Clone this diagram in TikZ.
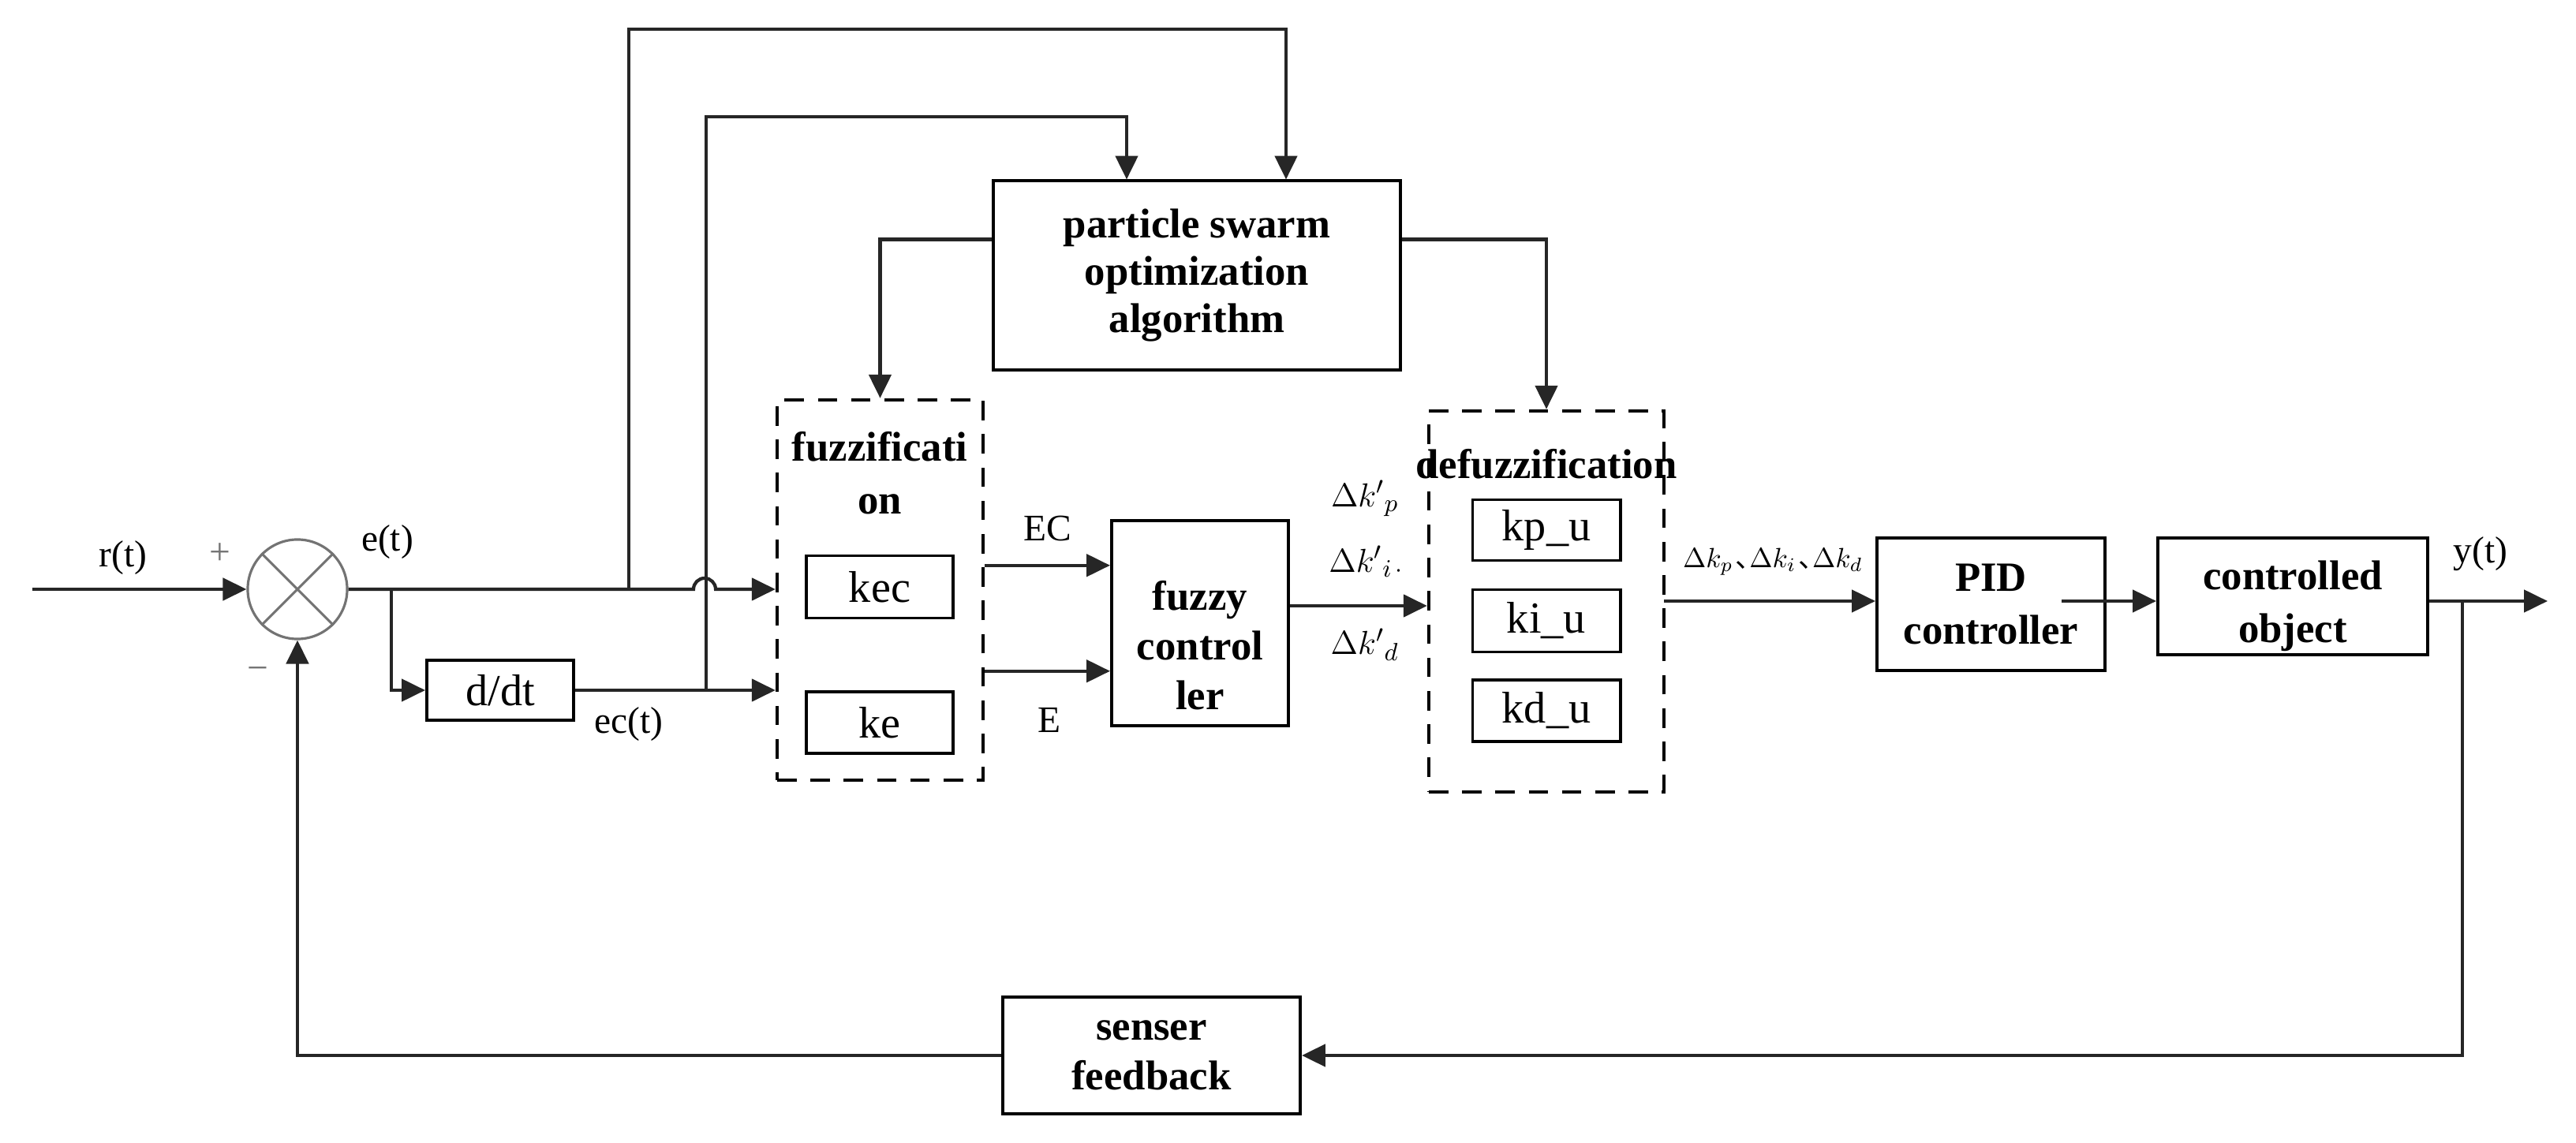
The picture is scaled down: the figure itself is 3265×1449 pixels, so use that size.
\documentclass[tikz,border=0pt]{standalone}
\usepackage{fontspec}
\setmainfont{Liberation Serif}
\newfontfamily\cjk{Noto Sans CJK SC}
\usetikzlibrary{arrows.meta,calc}
\tikzset{
  blk/.style={draw, line width=1.1pt, inner sep=0pt, align=center},
  dbox/.style={draw, dash pattern=on 7pt off 5pt, line width=1.2pt, inner sep=0pt},
  arr/.style={-{Triangle[length=8.5pt,width=8pt]}, line width=1.2pt, draw=black!85},
  ln/.style={line width=1.2pt, draw=black!85},
  bt/.style={font=\fontsize{15}{17}\selectfont\bfseries, align=center},
  bt2/.style={font=\fontsize{15}{19}\selectfont\bfseries, align=center},
  lab/.style={font=\fontsize{13.5}{16}\selectfont, inner sep=0pt},
  inb/.style={font=\fontsize{16}{18}\selectfont},
  dk/.style={font=\fontsize{12.5}{15}\selectfont, inner sep=0pt},
}
\newcommand{\cjkcomma}{\kern0.08em{\cjk 、}\kern-0.5em}
\begin{document}
\begin{tikzpicture}[x=0.01cm, y=-0.01cm]
\useasboundingbox (0,0) rectangle (3265,1449);

% summing junction
\node[circle, draw=black!55, line width=0.9pt, minimum size=1.26cm, inner sep=0pt] (sum) at (377,747) {};
\draw[black!55, line width=0.9pt] (sum.45) -- (sum.225) (sum.135) -- (sum.315);

% blocks
\node[blk, minimum width=1.86cm, minimum height=0.76cm, inb] (ddt) at (634,875) {d/dt};
\node[blk, minimum width=5.15cm, minimum height=2.39cm, bt] (pso) at (1517,349) {particle swarm\\optimization\\algorithm};
\node[dbox, minimum width=2.61cm, minimum height=4.82cm] (fuzz) at (1115.5,748) {};
\node[bt2] (fuzzt) at (1115,600) {fuzzificati\\on};
\node[blk, minimum width=1.86cm, minimum height=0.79cm, inb] (kec) at (1115,744) {kec};
\node[blk, minimum width=1.86cm, minimum height=0.78cm, inb] (ke) at (1115,916) {ke};
\node[blk, minimum width=2.24cm, minimum height=2.60cm] (fc) at (1521,790) {};
\node[bt, font=\fontsize{15}{18}\selectfont\bfseries] (fct) at ($(fc.center)+(0,28)$) {fuzzy\\control\\ler};
\node[dbox, minimum width=2.98cm, minimum height=4.83cm] (defuzz) at (1960,762.5) {};
\node[bt] (deft) at (1960,588) {defuzzification};
\node[blk, minimum width=1.87cm, minimum height=0.77cm, inb] (kpu) at (1960,672) {kp\_u};
\node[blk, minimum width=1.87cm, minimum height=0.79cm, inb] (kiu) at (1960,787) {ki\_u};
\node[blk, minimum width=1.87cm, minimum height=0.78cm, inb] (kdu) at (1960,901) {kd\_u};
\node[blk, minimum width=2.89cm, minimum height=1.68cm, bt2] (pid) at (2523.5,766) {PID\\controller};
\node[blk, minimum width=3.42cm, minimum height=1.48cm] (obj) at (2906,756) {};
\node[bt2] (objt) at ($(obj.center)+(0,12)$) {controlled\\object};
\node[blk, minimum width=3.77cm, minimum height=1.48cm, font=\fontsize{15}{18}\selectfont\bfseries] (sens) at (1459.5,1338) {senser\\feedback};

% coordinates
\coordinate (in) at (41,747);
\coordinate (b1) at (496,747);
\coordinate (j1) at (879,747);
\coordinate (t1) at (797,747);
\coordinate (t2) at (895,875);
\coordinate (p1) at (1428,0);
\coordinate (p2) at (1630,0);
\coordinate (ec0) at ($(fuzz.north east)+(0,212)$);
\coordinate (e0) at ($(fuzz.north east)+(0,346)$);
\coordinate (fo) at ($(fc.east)+(0,-22)$);
\coordinate (dfo) at (2109,762);
\coordinate (po) at (2613,762);
\coordinate (yo) at (3229,762);
\coordinate (fb) at (3121,762);

% connectors
\draw[arr] (in) -- (sum.west);
\draw[arr] (sum.east) -- (j1) arc[start angle=180, end angle=0, radius=0.14cm] -- (sum.east -| fuzz.west);
\draw[arr] (b1) |- (ddt.west);
\draw[arr] (ddt.east) -- (ddt.east -| fuzz.west);
\draw[arr] (t1) -- (797,37) -| (p2 |- pso.north);
\draw[arr] (t2) -- (895,148) -| (p1 |- pso.north);
\draw[arr] ($(pso.north west)+(0,76)$) -| (fuzz.north);
\draw[arr] ($(pso.north east)+(0,76)$) -| (defuzz.north);
\draw[arr] (ec0) -- (ec0 -| fc.west);
\draw[arr] (e0) -- (e0 -| fc.west);
\draw[arr] (fo) -- (fo -| defuzz.west);
\draw[arr] (dfo) -- (dfo -| pid.west);
\draw[arr] (po) -- (po -| obj.west);
\draw[arr] (yo -| obj.east) -- (yo);
\draw[arr] (fb) |- (sens.east);
\draw[arr] (sens.west) -| (sum.south);

% labels
\node[lab] (lr) at (156,707) {r(t)};
\node[lab, text=black!55] (lplus) at (279,702) {+};
\node[lab, text=black!55] (lminus) at (327,854) {\textminus};
\node[lab] (le) at (491,687) {e(t)};
\node[lab] (lec) at (797,918) {ec(t)};
\node[lab] (lEC) at (1328,670) {EC};
\node[lab] (lE) at (1330,913) {E};
\node[dk] (dkp) at (1730,632) {$\Delta k'{}_{p}$};
\node[dk] (dki) at (1732,712) {$\Delta k'{}_{i\,\cdot}$};
\node[dk] (dkd) at (1730,817) {$\Delta k'{}_{d}$};
\node[font=\fontsize{10}{12}\selectfont, inner sep=0pt] (dks) at (2247,712) {$\Delta k_p$\cjkcomma$\Delta k_i$\cjkcomma$\Delta k_d$};
\node[lab] (ly) at (3144,702) {y(t)};
\end{tikzpicture}
\end{document}
